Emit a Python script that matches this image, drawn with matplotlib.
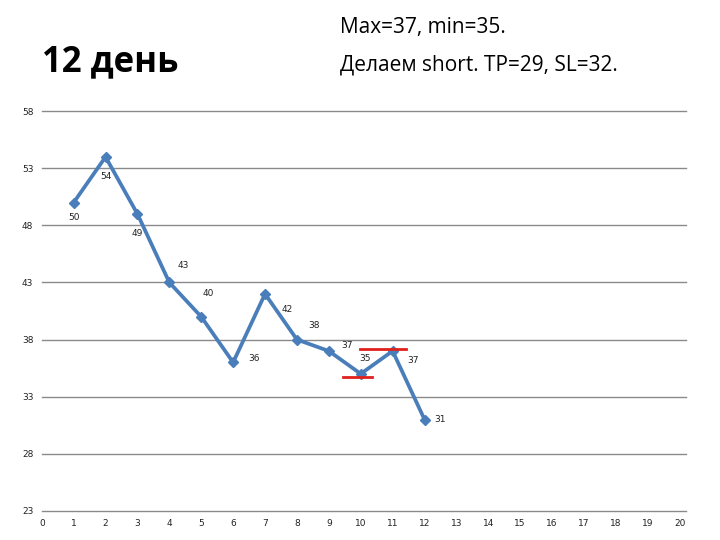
import matplotlib.pyplot as plt

# Data
days = [1, 2, 3, 4, 5, 6, 7, 8, 9, 10, 11, 12]
prices = [50, 54, 49, 43, 40, 36, 42, 38, 37, 35, 37, 31]
# label offsets in points (dx, dy) to mimic the original label placement
label_offsets = [(0, -11), (0, -14), (0, -14), (10, 12), (5, 17), (15, 3),
                 (16, -11), (12, 10), (13, 4), (3, 11), (15, -7), (11, 0)]
# red support / resistance marks: (level, x_start, x_end)
red_marks = [(34.7, 9.44, 10.34), (37.2, 9.97, 11.41)]
y_ticks = [23, 28, 33, 38, 43, 48, 53, 58]
x_ticks = list(range(0, 21))

fig = plt.figure(figsize=(7.2, 5.4), dpi=100)
ax = fig.add_axes([0.058, 0.054, 0.886, 0.74])

for y in y_ticks:
    ax.plot([0, 20.2], [y, y], color='#8a8a8a', lw=1.0, zorder=1,
            clip_on=False)

ax.plot(days, prices, color='#4a7ebb', lw=2.7, marker='D', markersize=5,
        zorder=3)

for x, y, (dx, dy) in zip(days, prices, label_offsets):
    ax.annotate(str(y), (x, y), xytext=(dx, dy), textcoords='offset points',
                ha='center', va='center', fontsize=6.5, color='#222222')

for lvl, x0, x1 in red_marks:
    ax.plot([x0, x1], [lvl, lvl], color='#e0201b', lw=2, zorder=4)

ax.set_xlim(0, 20)
ax.set_ylim(23, 58)
ax.set_xticks(x_ticks)
ax.set_yticks(y_ticks)
ax.tick_params(labelsize=6.5, length=0, colors='#222222', pad=6)
for s in ax.spines.values():
    s.set_visible(False)

fig.text(0.058, 0.885, '12 день', fontsize=25, fontweight='bold',
         family='Open Sans', va='center', ha='left')
fig.text(0.472, 0.950, 'Max=37, min=35.', fontsize=15, family='Open Sans',
         va='center', ha='left')
fig.text(0.472, 0.879, 'Делаем short. TP=29, SL=32.', fontsize=15,
         family='Open Sans', va='center', ha='left')

plt.savefig('out.png', dpi=100)
